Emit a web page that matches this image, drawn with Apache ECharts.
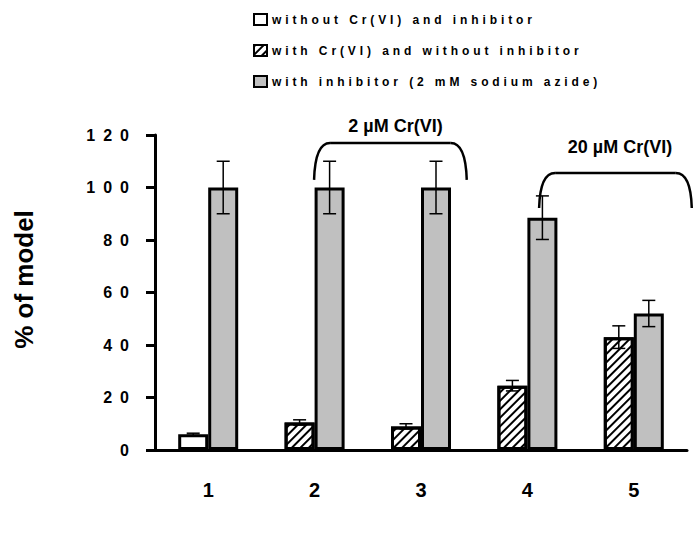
<!DOCTYPE html>
<html><head><meta charset="utf-8">
<script src="https://cdn.jsdelivr.net/npm/echarts@6/dist/echarts.min.js"></script>
<style>html,body{margin:0;padding:0;background:#fff}#c{width:697px;height:535px}</style>
</head><body><div id="c"></div>
<script>
const categories = ['1', '2', '3', '4', '5'];
const seriesNames = ['without Cr(VI) and inhibitor', 'with Cr(VI) and without inhibitor', 'with inhibitor (2 mM sodium azide)'];
const withoutCrWithoutInh = [6, '-', '-', '-', '-'];
const withCrWithoutInh = ['-', 10.5, 9, 24.5, 43];
const withInhibitor = [100, 100, 100, 88.5, 52];
const errWithoutCr = [0.4, null, null, null, null];
const errWithCr = [null, 1, 1, 2, 4.3];
const errInhibitor = [10, 10, 10, 8.3, 5];
const yTickLabels = ['0', '20', '40', '60', '80', '100', '120'];
const annotationTexts = ['2 µM Cr(VI)', '20 µM Cr(VI)'];

const BAR_W = 30;
const FONT = 'Liberation Sans, Arial, sans-serif';

// error bar items: [category index, value, error, slot]
const errData = [];
categories.forEach((c, i) => {
  if (errWithoutCr[i] != null) errData.push([i, withoutCrWithoutInh[i], errWithoutCr[i], 0]);
  if (errWithCr[i] != null) errData.push([i, withCrWithoutInh[i], errWithCr[i], 0]);
  if (errInhibitor[i] != null) errData.push([i, withInhibitor[i], errInhibitor[i], 1]);
});

const chart = echarts.init(document.getElementById('c'), null, {renderer: 'svg'});
const barStyle = {borderColor: '#000', borderWidth: 3};
const option = {
  animation: false,
  backgroundColor: '#fff',
  textStyle: {fontFamily: FONT, color: '#000'},
  legend: {
    data: seriesNames,
    orient: 'vertical',
    left: 248, top: 8,
    itemWidth: 13, itemHeight: 11, itemGap: 18,
    icon: 'rect',
    itemStyle: {borderWidth: 2, borderColor: '#000'},
    textStyle: {fontSize: 12, fontWeight: 'bold', color: '#000', fontFamily: FONT}
  },
  grid: {left: 155, right: 10, top: 135, bottom: 85, containLabel: false},
  xAxis: {
    type: 'category', data: categories,
    axisLine: {lineStyle: {color: '#000', width: 3}},
    axisTick: {show: false},
    axisLabel: {fontSize: 20, fontWeight: 'bold', color: '#000', margin: 30, fontFamily: FONT}
  },
  yAxis: {
    type: 'value', min: 0, max: 120, interval: 20,
    name: '% of model', nameLocation: 'middle', nameGap: 118,
    nameTextStyle: {fontSize: 26, fontWeight: 'bold', color: '#000', fontFamily: FONT, padding: [0, 0, 0, 26]},
    axisLine: {show: true, lineStyle: {color: '#000', width: 3}},
    axisTick: {show: true, length: 9, lineStyle: {color: '#000', width: 3}},
    axisLabel: {fontSize: 16, fontWeight: 'bold', color: '#000', margin: 18, fontFamily: FONT},
    splitLine: {show: false}
  },
  series: [
    {name: seriesNames[0], type: 'bar', stack: 'low', data: withoutCrWithoutInh, barWidth: BAR_W, barGap: '0%',
     itemStyle: Object.assign({color: '#fff'}, barStyle)},
    {name: seriesNames[1], type: 'bar', stack: 'low', data: withCrWithoutInh, barWidth: BAR_W, barGap: '0%',
     itemStyle: Object.assign({color: '#fff', decal: {symbol: 'rect', symbolSize: 1, dashArrayX: [1, 0], dashArrayY: [1.6, 3.4], rotation: -Math.PI / 4, color: '#000'}}, barStyle)},
    {name: seriesNames[2], type: 'bar', data: withInhibitor, barWidth: BAR_W, barGap: '0%',
     itemStyle: Object.assign({color: '#c0c0c0'}, barStyle)},
    {name: 'error', type: 'custom', z: 10, data: errData, encode: {x: 0, y: 1},
     renderItem: function (params, api) {
       const i = api.value(0), v = api.value(1), e = api.value(2), slot = api.value(3);
       const c = api.coord([i, v]);
       const x = c[0] + (slot - 0.5) * BAR_W;
       const yt = api.coord([i, v + e])[1], yb = api.coord([i, v - e])[1];
       const cap = 6.5;
       const st = {stroke: '#000', lineWidth: 1.5};
       return {type: 'group', children: [
         {type: 'line', shape: {x1: x, y1: yt, x2: x, y2: yb}, style: st},
         {type: 'line', shape: {x1: x - cap, y1: yt, x2: x + cap, y2: yt}, style: st},
         {type: 'line', shape: {x1: x - cap, y1: yb, x2: x + cap, y2: yb}, style: st}
       ]};
     }}
  ]
};
chart.setOption(option);

// bracket annotations placed in data space (category index fraction, value)
const brackets = [
  {text: annotationTexts[0], left: 0.995, right: 2.43, ends: 102.9, top: 117, textX: 1.76, textY: 123.5},
  {text: annotationTexts[1], left: 3.11, right: 4.545, ends: 92.2, top: 105.5, textX: 3.87, textY: 115.5}
];
const x0 = chart.convertToPixel({xAxisIndex: 0}, 0);
const step = chart.convertToPixel({xAxisIndex: 0}, 1) - x0;
const px = i => x0 + i * step;
const py = v => chart.convertToPixel({yAxisIndex: 0}, v);
const graphics = [];
brackets.forEach(b => {
  const xl = px(b.left), xr = px(b.right), ye = py(b.ends), yt = py(b.top);
  const st = {stroke: '#000', lineWidth: 2.5, fill: 'none'};
  graphics.push({type: 'bezierCurve', shape: {x1: xl, y1: ye, cpx1: xl + 1, cpy1: yt, x2: xl + 16, y2: yt}, style: st});
  graphics.push({type: 'line', shape: {x1: xl + 16, y1: yt, x2: xr - 16, y2: yt}, style: st});
  graphics.push({type: 'bezierCurve', shape: {x1: xr - 16, y1: yt, cpx1: xr - 1, cpy1: yt, x2: xr, y2: ye}, style: st});
  graphics.push({type: 'text', x: px(b.textX), y: py(b.textY),
    style: {text: b.text, fill: '#000', font: 'bold 18px ' + FONT, textAlign: 'center', textVerticalAlign: 'middle'}});
});
chart.setOption({graphic: graphics});

function applySpacing() {
  document.querySelectorAll('#c text').forEach(t => {
    const s = t.textContent;
    if (seriesNames.includes(s)) t.style.letterSpacing = '3.9px';
    else if (yTickLabels.includes(s)) t.style.letterSpacing = '8px';
  });
}
applySpacing();
chart.on('finished', applySpacing);
</script></body></html>
